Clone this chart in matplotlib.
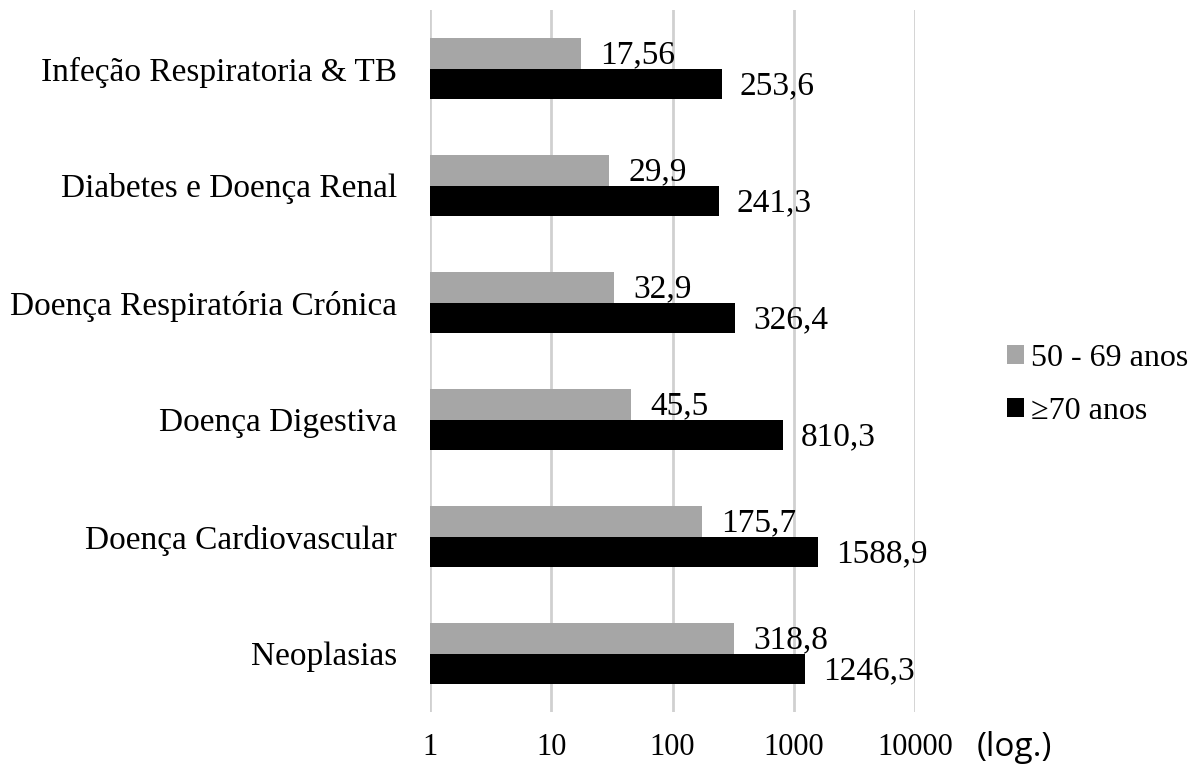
import matplotlib
matplotlib.use('Agg')
import matplotlib.pyplot as plt
from matplotlib.patches import Patch
import numpy as np

# Data (top to bottom as shown)
categories = ['Infeção Respiratoria & TB', 'Diabetes e Doença Renal',
              'Doença Respiratória Crónica', 'Doença Digestiva',
              'Doença Cardiovascular', 'Neoplasias']
vals_50_69 = [17.56, 29.9, 32.9, 45.5, 175.7, 318.8]
vals_70 = [253.6, 241.3, 326.4, 810.3, 1588.9, 1246.3]
labels_50_69 = ['17,56', '29,9', '32,9', '45,5', '175,7', '318,8']
labels_70 = ['253,6', '241,3', '326,4', '810,3', '1588,9', '1246,3']
series_names = ['50 - 69 anos', '≥70 anos']
xticks = [1, 10, 100, 1000, 10000]

serif = ['Liberation Serif', 'DejaVu Serif']
fsize = 24

fig = plt.figure(figsize=(11.96, 7.65), dpi=100)
ax = fig.add_axes([430/1196, 1 - 712/765, (915-430)/1196, (712-10)/765])

y = np.arange(len(categories))
h = 0.26
gray = '#a6a6a6'
ax.barh(y - h/2, vals_50_69, height=h, color=gray, zorder=3)
ax.barh(y + h/2, vals_70, height=h, color='black', zorder=3)

ax.set_xscale('log')
ax.set_xlim(1, 10000)
ax.set_ylim(len(categories) - 0.5, -0.5)

# value labels right of each bar
for i in range(len(categories)):
    ax.annotate(labels_50_69[i], (vals_50_69[i], y[i] - h/2), xytext=(14, -1),
                textcoords='offset points', ha='left', va='center',
                fontsize=fsize, family=serif, zorder=4)
    ax.annotate(labels_70[i], (vals_70[i], y[i] + h/2), xytext=(13, -2),
                textcoords='offset points', ha='left', va='center',
                fontsize=fsize, family=serif, zorder=4)

ax.set_yticks(y)
ax.set_yticklabels(categories, fontsize=fsize, family=serif)
ax.set_xticks(xticks)
ax.set_xticklabels([str(t) for t in xticks], fontsize=22, family=serif)
ax.xaxis.set_minor_locator(matplotlib.ticker.NullLocator())
ax.tick_params(axis='both', length=0)
ax.tick_params(axis='y', pad=23.5)
ax.tick_params(axis='x', pad=15)

ax.grid(axis='x', color='#d0d0d0', linewidth=2, zorder=0)
for s in ax.spines.values():
    s.set_visible(False)

fig.text(977/1196, 1 - 747/765, '(log.)', fontsize=24, family='Open Sans',
         ha='left', va='center')

handles = [Patch(facecolor=gray), Patch(facecolor='black')]
fig.legend(handles, series_names, loc='center left',
           bbox_to_anchor=(978/1196, 1 - 385/765), frameon=False,
           prop={'family': serif, 'size': 23}, handlelength=0.55,
           handleheight=0.55, handletextpad=0.2, labelspacing=0.75)

fig.savefig('out.png', dpi=100)
